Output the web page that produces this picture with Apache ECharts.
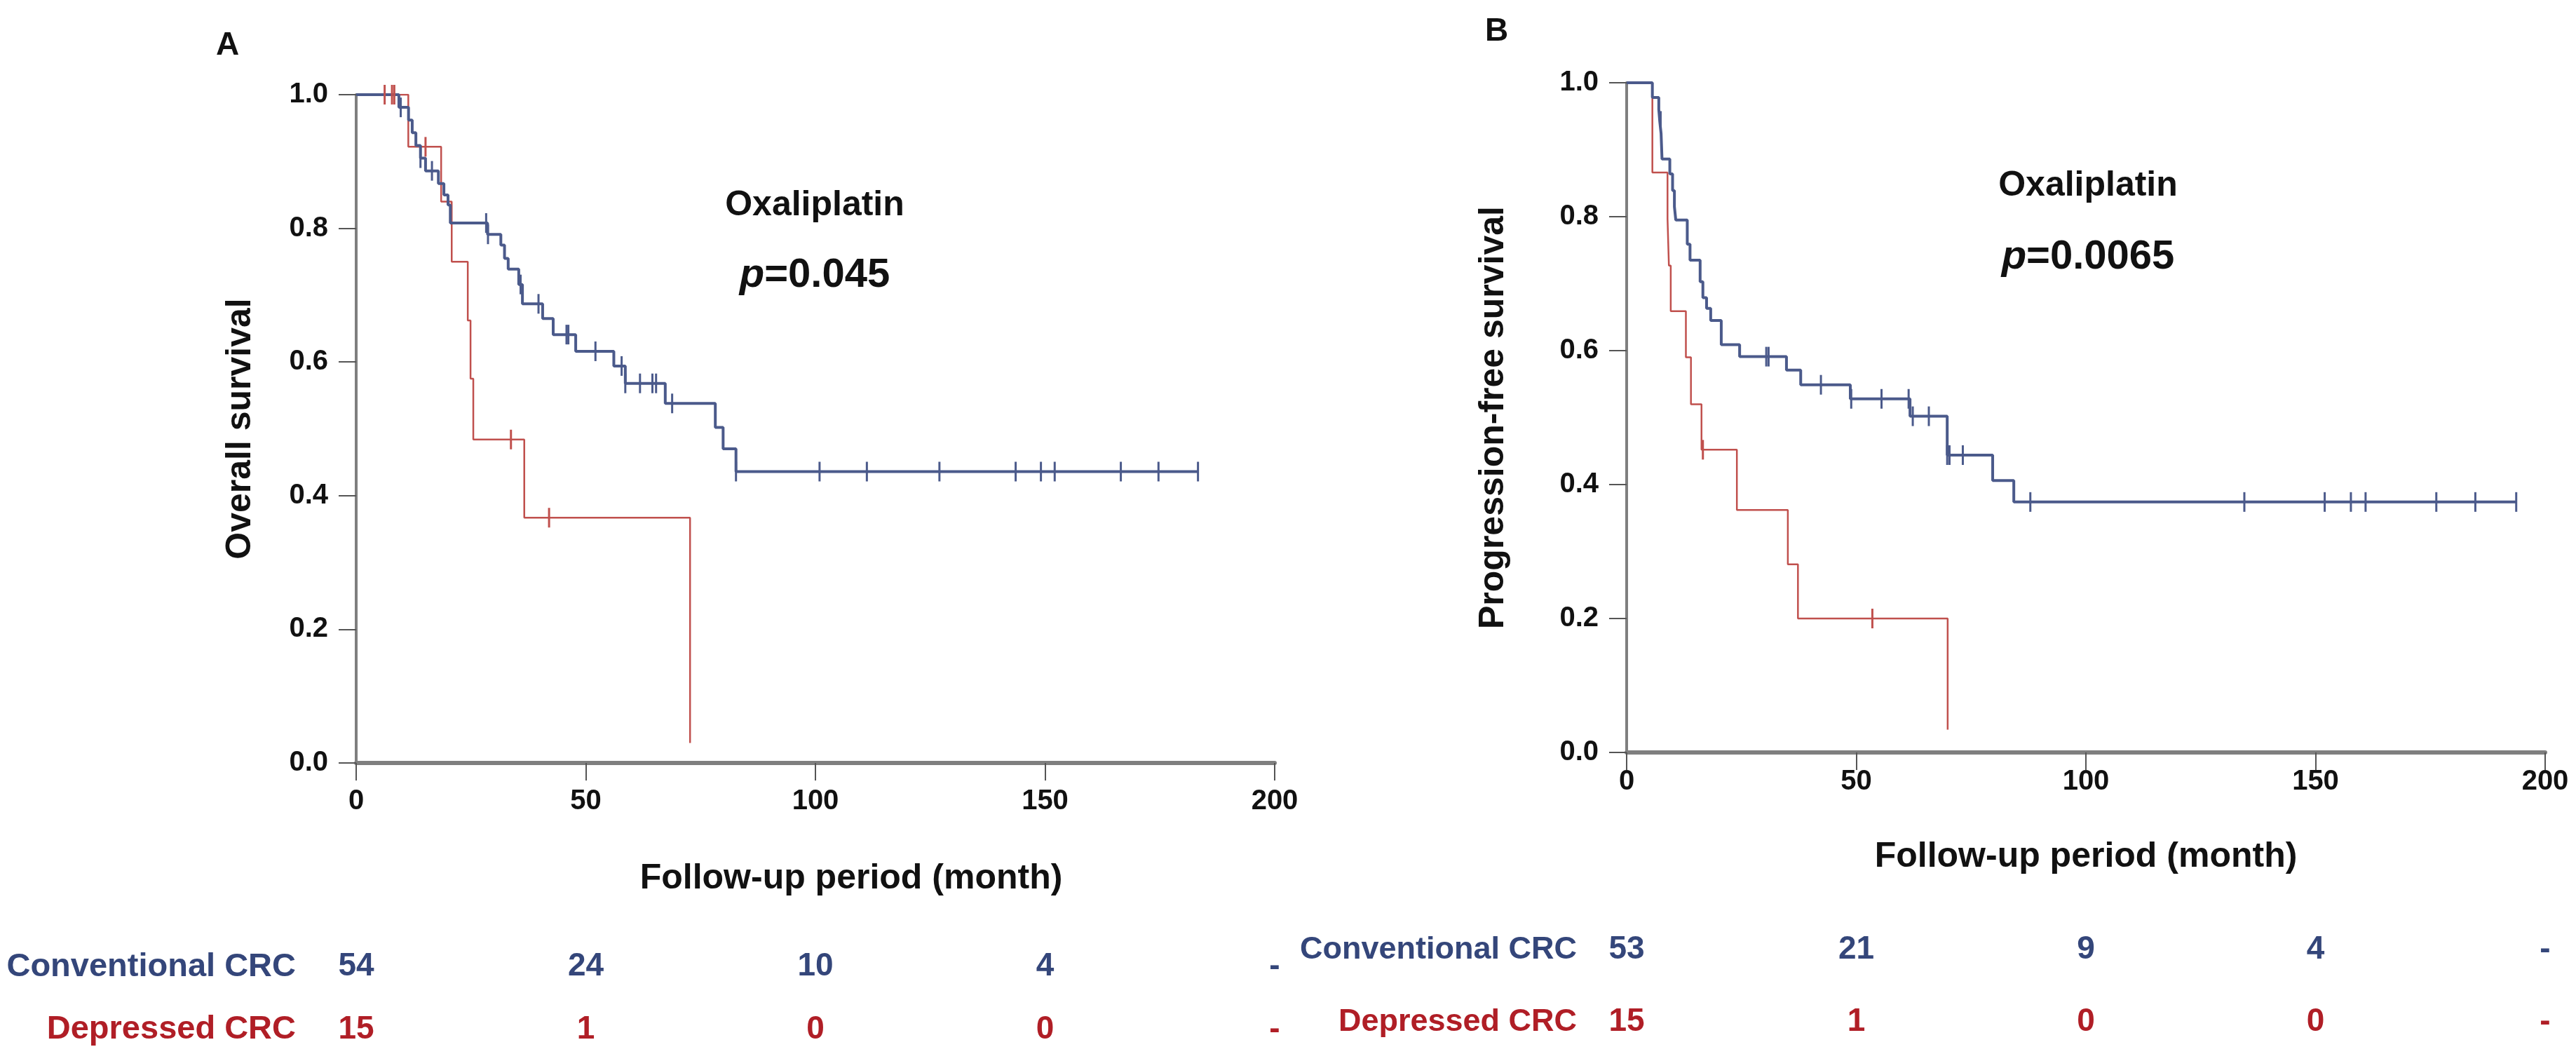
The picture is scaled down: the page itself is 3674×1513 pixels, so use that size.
<!DOCTYPE html>
<html><head><meta charset="utf-8">
<script src="https://cdn.jsdelivr.net/npm/echarts@6/dist/echarts.min.js"></script>
<style>html,body{margin:0;padding:0;background:#fff}#c{width:3674px;height:1513px}</style>
</head><body><div id="c"></div>
<script>
// ---------- Panel A: Overall survival ----------
const osConvTime = [0, 9.3, 11.4, 12.2, 13.0, 14.0, 15.1, 17.9, 19.1, 20.0, 20.5, 28.6, 31.5, 32.3, 33.1, 35.4, 36.2, 40.6, 42.9, 47.8, 56.1, 58.6, 67.3, 78.2, 79.9, 82.7, 183.3];
const osConvSurv = [1.0, 0.981, 0.962, 0.943, 0.924, 0.905, 0.886, 0.867, 0.850, 0.835, 0.808, 0.791, 0.775, 0.755, 0.739, 0.716, 0.687, 0.665, 0.641, 0.616, 0.594, 0.568, 0.538, 0.502, 0.470, 0.436, 0.436];
const osConvCensor = [9.7, 14.0, 16.5, 28.3, 28.7, 35.8, 39.7, 45.8, 46.2, 52.1, 57.8, 58.6, 61.8, 64.5, 65.3, 68.8, 82.7, 100.9, 111.2, 127.0, 143.6, 149.1, 152.1, 166.5, 174.7, 183.3];
const osDepTime = [0, 11.35, 18.5, 20.8, 24.3, 24.9, 25.5, 36.6, 72.7];
const osDepSurv = [1.0, 0.922, 0.840, 0.750, 0.662, 0.575, 0.484, 0.367, 0.03];
const osDepCensor = [6.2, 7.8, 8.3, 15.1, 33.7, 42.0];

// ---------- Panel B: Progression-free survival ----------
const pfsConvTime = [0, 5.6, 7.0, 7.2, 7.5, 7.6, 7.7, 9.4, 10.0, 10.4, 10.7, 13.2, 13.8, 16.0, 16.6, 17.4, 18.3, 20.6, 24.6, 34.8, 37.9, 48.7, 61.7, 69.8, 79.7, 84.3, 193.7];
const pfsConvSurv = [1.0, 0.978, 0.960, 0.943, 0.924, 0.905, 0.886, 0.864, 0.839, 0.815, 0.795, 0.759, 0.735, 0.703, 0.679, 0.663, 0.645, 0.609, 0.591, 0.571, 0.549, 0.528, 0.502, 0.444, 0.406, 0.374, 0.374];
const pfsConvCensor = [7.4, 30.4, 30.9, 42.3, 48.9, 55.5, 61.4, 62.3, 65.8, 69.8, 70.3, 73.2, 87.9, 134.5, 152.0, 157.7, 160.9, 176.3, 184.8, 193.7];
const pfsDepTime = [0, 5.6, 8.9, 9.2, 9.6, 12.9, 14.0, 16.3, 24.0, 35.1, 37.3, 69.9];
const pfsDepSurv = [1.0, 0.866, 0.797, 0.727, 0.659, 0.590, 0.520, 0.452, 0.362, 0.281, 0.200, 0.034];
const pfsDepCensor = [16.6, 53.5];

// ---------- Numbers at risk ----------
const riskTimes = [0, 50, 100, 150, 200];
const riskRows = ['Conventional CRC', 'Depressed CRC'];
const riskA_conv = [54, 24, 10, 4, '-'];
const riskA_dep = [15, 1, 0, 0, '-'];
const riskB_conv = [53, 21, 9, 4, '-'];
const riskB_dep = [15, 1, 0, 0, '-'];

const BLUE = '#4b5a8b', RED = '#c0504d';
const TXT_BLUE = '#34467a', TXT_RED = '#b01e26';
const AXIS = '#7f7f7f';
const FONT = 'Liberation Sans, Arial, Helvetica, sans-serif';

function pairs(t, s) { return t.map((x, i) => [x, s[i]]); }
function survAt(t, s, x) { let v = s[0]; for (let i = 0; i < t.length; i++) { if (t[i] <= x) v = s[i]; } return v; }
function censorPts(t, s, c) { return c.map(x => [x, survAt(t, s, x)]); }

const grids = [
  { left: 508, top: 135, width: 1310, height: 953 },
  { left: 2320, top: 118, width: 1310, height: 955 },
  { left: 508, top: 1334, width: 1310, height: 206 },
  { left: 2320, top: 1303, width: 1310, height: 206 }
];

function plotX(gi, pad, labelMargin, nameGap) {
  return {
    type: 'value', gridIndex: gi, min: 0, max: 200, interval: 50,
    name: 'Follow-up period (month)', nameLocation: 'middle', nameGap: nameGap,
    nameTextStyle: { fontFamily: FONT, fontWeight: 'bold', fontSize: 50, color: '#111', padding: pad },
    axisLine: { show: true, onZero: false, lineStyle: { color: AXIS, width: 6 } },
    axisTick: { show: true, inside: false, length: 25, lineStyle: { color: '#555', width: 2 } },
    axisLabel: { fontFamily: FONT, fontWeight: 'bold', fontSize: 40, color: '#111', margin: labelMargin },
    splitLine: { show: false }
  };
}
function plotY(gi, name, gap) {
  return {
    type: 'value', gridIndex: gi, min: 0, max: 1, interval: 0.2,
    name: name, nameLocation: 'middle', nameGap: gap, nameRotate: 90,
    nameTextStyle: { fontFamily: FONT, fontWeight: 'bold', fontSize: 50, color: '#111' },
    axisLine: { show: true, lineStyle: { color: AXIS, width: 4 } },
    axisTick: { show: true, inside: false, length: 25, lineStyle: { color: '#555', width: 2 } },
    axisLabel: { fontFamily: FONT, fontWeight: 'bold', fontSize: 40, color: '#111', margin: 40, formatter: v => v.toFixed(1) },
    splitLine: { show: false }
  };
}
function riskX(gi) {
  return { type: 'value', gridIndex: gi, min: 0, max: 200, show: false };
}
function riskY(gi, margin, fs) {
  return {
    type: 'category', gridIndex: gi, data: riskRows, inverse: true,
    axisLine: { show: false }, axisTick: { show: false }, splitLine: { show: false },
    axisLabel: { fontFamily: FONT, fontWeight: 'bold', fontSize: fs, margin: margin,
      color: (v, i) => (v === 'Conventional CRC' ? TXT_BLUE : TXT_RED) }
  };
}
function curve(xi, t, s, color, w, z) {
  return { type: 'line', xAxisIndex: xi, yAxisIndex: xi, step: 'end', data: pairs(t, s), showSymbol: false,
    lineStyle: { color: color, width: w }, itemStyle: { color: color }, z: z, silent: true, animation: false };
}
function censor(xi, t, s, c, color, z) {
  return { type: 'scatter', xAxisIndex: xi, yAxisIndex: xi, data: censorPts(t, s, c), symbol: 'rect', symbolSize: [3, 28],
    itemStyle: { color: color, opacity: 1 }, z: z, silent: true, animation: false };
}
function riskSeries(xi, row, arr, color) {
  return { type: 'scatter', xAxisIndex: xi, yAxisIndex: xi, symbol: 'circle', symbolSize: 0.01,
    itemStyle: { color: color, opacity: 1 },
    data: riskTimes.map(x => [x, row]), animation: false, silent: true,
    label: { show: true, position: 'inside', formatter: p => String(arr[p.dataIndex]), color: color, opacity: 1,
      fontFamily: FONT, fontWeight: 'bold', fontSize: 46 } };
}

const option = {
  backgroundColor: '#fff',
  animation: false,
  grid: grids,
  xAxis: [plotX(0, [0, 0, 0, 102], 35, 140), plotX(1, [0, 0, 0, 0], 22, 124), riskX(2), riskX(3)],
  yAxis: [plotY(0, 'Overall survival', 140), plotY(1, 'Progression-free survival', 165), riskY(2, 86, 47), riskY(3, 71, 45)],
  series: [
    curve(0, osDepTime, osDepSurv, RED, 2.5, 3),
    curve(0, osConvTime, osConvSurv, BLUE, 4, 4),
    censor(0, osDepTime, osDepSurv, osDepCensor, RED, 5),
    censor(0, osConvTime, osConvSurv, osConvCensor, BLUE, 6),
    curve(1, pfsDepTime, pfsDepSurv, RED, 2.5, 3),
    curve(1, pfsConvTime, pfsConvSurv, BLUE, 4, 4),
    censor(1, pfsDepTime, pfsDepSurv, pfsDepCensor, RED, 5),
    censor(1, pfsConvTime, pfsConvSurv, pfsConvCensor, BLUE, 6),
    riskSeries(2, 'Conventional CRC', riskA_conv, TXT_BLUE),
    riskSeries(2, 'Depressed CRC', riskA_dep, TXT_RED),
    riskSeries(3, 'Conventional CRC', riskB_conv, TXT_BLUE),
    riskSeries(3, 'Depressed CRC', riskB_dep, TXT_RED)
  ],
  graphic: [
    { type: 'text', left: 308, top: 42, style: { text: 'A', fontFamily: FONT, fontWeight: 'bold', fontSize: 46, fill: '#111' } },
    { type: 'text', left: 2118, top: 22, style: { text: 'B', fontFamily: FONT, fontWeight: 'bold', fontSize: 46, fill: '#111' } },
    { type: 'text', x: 1162, y: 293, style: { text: 'Oxaliplatin', fontFamily: FONT, fontWeight: 'bold', fontSize: 50, fill: '#111', align: 'center', verticalAlign: 'middle' } },
    { type: 'text', x: 1162, y: 393, style: { text: '{i|p}=0.045', fontFamily: FONT, fontWeight: 'bold', fontSize: 58, fill: '#111', align: 'center', verticalAlign: 'middle',
      rich: { i: { fontStyle: 'italic', fontFamily: FONT, fontWeight: 'bold', fontSize: 58, fill: '#111' } } } },
    { type: 'text', x: 2978, y: 265, style: { text: 'Oxaliplatin', fontFamily: FONT, fontWeight: 'bold', fontSize: 50, fill: '#111', align: 'center', verticalAlign: 'middle' } },
    { type: 'text', x: 2978, y: 367, style: { text: '{i|p}=0.0065', fontFamily: FONT, fontWeight: 'bold', fontSize: 58, fill: '#111', align: 'center', verticalAlign: 'middle',
      rich: { i: { fontStyle: 'italic', fontFamily: FONT, fontWeight: 'bold', fontSize: 58, fill: '#111' } } } }
  ]
};
const chart = echarts.init(document.getElementById('c'), null, { renderer: 'canvas' });
chart.setOption(option);
</script>
</body></html>
